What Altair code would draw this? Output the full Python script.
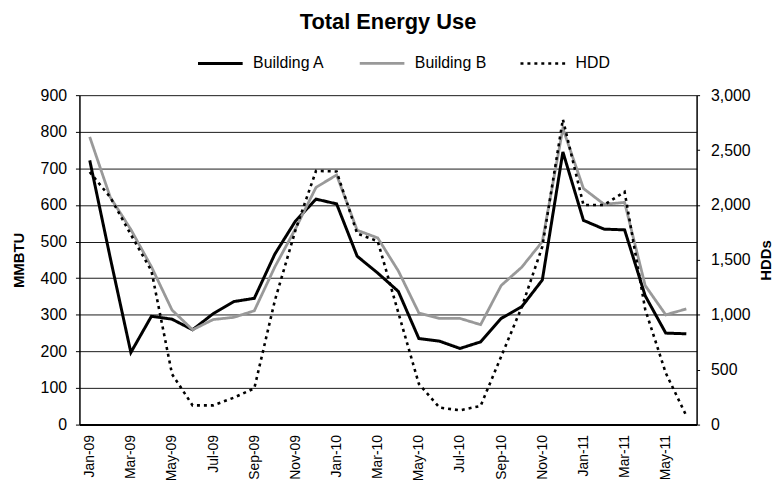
import altair as alt
import pandas as pd

months = ["Jan-09", "Feb-09", "Mar-09", "Apr-09", "May-09", "Jun-09",
          "Jul-09", "Aug-09", "Sep-09", "Oct-09", "Nov-09", "Dec-09",
          "Jan-10", "Feb-10", "Mar-10", "Apr-10", "May-10", "Jun-10",
          "Jul-10", "Aug-10", "Sep-10", "Oct-10", "Nov-10", "Dec-10",
          "Jan-11", "Feb-11", "Mar-11", "Apr-11", "May-11", "Jun-11"]

building_a = [722, 455, 197, 296, 288, 259, 303, 336, 345, 466, 556, 616,
              603, 460, 414, 364, 235, 228, 208, 226, 290, 322, 395, 745,
              558, 534, 532, 352, 250, 248]

building_b = [786, 621, 533, 431, 313, 259, 287, 293, 311, 431, 535, 648,
              682, 531, 510, 420, 305, 290, 290, 273, 380, 430, 500, 809,
              645, 602, 607, 380, 300, 316]

hdd = [2300, 2070, 1730, 1400, 460, 175, 175, 245, 330, 1130, 1770, 2310,
       2305, 1740, 1670, 1020, 370, 155, 130, 170, 620, 1070, 1620, 2780,
       2000, 2000, 2120, 1050, 470, 80]

series_names = ["Building A", "Building B", "HDD"]
series_colors = ["#000000", "#999999", "#000000"]
series_dashes = [[1, 0], [1, 0], [3, 4]]

left_ticks = list(range(0, 901, 100))
right_ticks = list(range(0, 3001, 500))
x_labels = months[::2]

rows = []
for m, a, b, h in zip(months, building_a, building_b, hdd):
    rows.append({"month": m, "series": "Building A", "value": a})
    rows.append({"month": m, "series": "Building B", "value": b})
    rows.append({"month": m, "series": "HDD", "value": h})
df = pd.DataFrame(rows)

FONT = "Liberation Sans"

legend = alt.Legend(
    title=None, orient="none", direction="horizontal",
    legendX=118, legendY=-56,
    symbolType="stroke", symbolSize=2025, symbolStrokeWidth=3,
    labelFontSize=16, labelFont=FONT, labelColor="black",
    labelOffset=9, columnPadding=28, padding=0,
)

x_enc = alt.X(
    "month:O", sort=months,
    scale=alt.Scale(type="point", padding=0.5),
    axis=alt.Axis(values=x_labels, labelAngle=-90, title=None, ticks=False,
                  labelPadding=10, labelFontSize=14, labelFont=FONT,
                  labelColor="black", domainColor="black", domainWidth=2,
                  grid=False),
)

color = alt.Color("series:N",
                  scale=alt.Scale(domain=series_names, range=series_colors),
                  legend=legend)
dash = alt.StrokeDash("series:N",
                      scale=alt.Scale(domain=series_names, range=series_dashes),
                      legend=legend)
size = alt.StrokeWidth("series:N",
                       scale=alt.Scale(domain=series_names, range=[3, 2.6, 3]),
                       legend=None)

base = alt.Chart(df)

buildings = base.transform_filter("datum.series != 'HDD'").mark_line(
    strokeCap="butt", strokeJoin="miter"
).encode(
    x=x_enc,
    y=alt.Y("value:Q",
            scale=alt.Scale(domain=[0, 900], nice=False),
            axis=alt.Axis(values=left_ticks, title="MMBTU", grid=True,
                          gridColor="black", gridWidth=1, gridOpacity=0.9,
                          tickColor="black", tickSize=4,
                          domainColor="black", domainWidth=1.5,
                          labelFontSize=16, labelFont=FONT, labelColor="black",
                          labelPadding=9,
                          titleFont=FONT, titleFontSize=15, titleFontWeight="bold",
                          titleColor="black", titlePadding=14)),
    color=color,
    strokeDash=dash,
    strokeWidth=size,
)

hdd_layer = base.transform_filter("datum.series == 'HDD'").mark_line(
    strokeCap="butt"
).encode(
    x=x_enc,
    y=alt.Y("value:Q",
            scale=alt.Scale(domain=[0, 3000], nice=False),
            axis=alt.Axis(orient="right", values=right_ticks,
                          labelExpr="format(datum.value, ',')",
                          title="HDDs", titleAngle=270, titleBaseline="top",
                          grid=False,
                          tickColor="black", tickSize=3,
                          domainColor="black", domainWidth=1.5,
                          labelFontSize=16, labelFont=FONT, labelColor="black",
                          labelPadding=11,
                          titleFont=FONT, titleFontSize=15, titleFontWeight="bold",
                          titleColor="black", titlePadding=8)),
    color=color,
    strokeDash=dash,
    strokeWidth=size,
)

chart = alt.layer(buildings, hdd_layer).resolve_scale(
    y="independent"
).properties(
    width=622, height=332,
    title=alt.Title("Total Energy Use", font=FONT, fontSize=22,
                    fontWeight="bold", color="black", anchor="middle",
                    offset=6),
    autosize=alt.AutoSizeParams(type="none"),
    padding={"left": 72, "top": 86, "right": 78, "bottom": 55},
).configure_view(stroke=None)

chart.save("out.html", embed_options={"renderer": "svg", "actions": False})
